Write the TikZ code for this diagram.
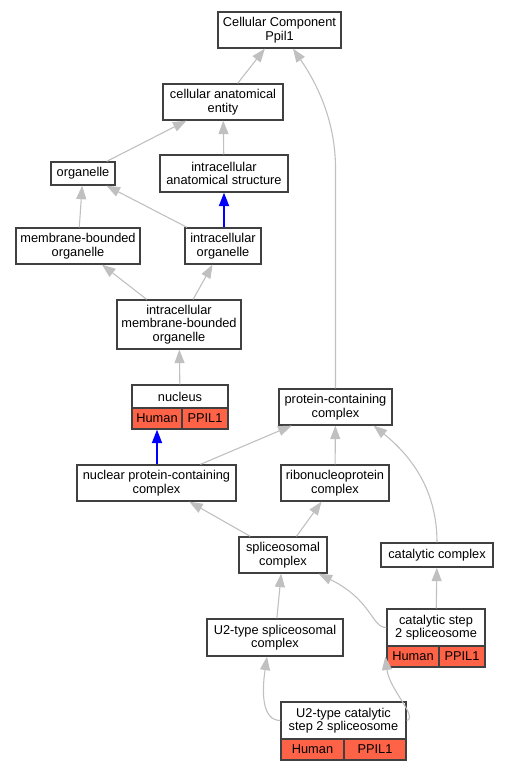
\documentclass[tikz,border=0pt]{standalone}
\usepackage{fontspec}
\setmainfont{Liberation Sans}
\usetikzlibrary{calc,arrows.meta}
\definecolor{hitred}{HTML}{FF6347}
\definecolor{linkgray}{HTML}{C0C0C0}
\tikzset{
	term/.style={draw=black!75, line width=1.3pt, fill=white, inner sep=0pt, align=center,
		font=\fontsize{12.8}{13.6}\selectfont},
	hit/.style={term, fill=hitred},
	link/.style={draw=linkgray, line width=1.1pt, -{Triangle[length=13.5pt,width=10pt]}},
	bluelink/.style={link, draw=blue, line width=2pt}
}
\begin{document}
\begin{tikzpicture}[x=1pt, y=-1pt]
			%%%%% START %%%%%
			\useasboundingbox (0, 0) rectangle (509, 771);
			
			\node[term, minimum width=123, minimum height=36] (cc) at (279.5, 30) {Cellular Component\\Ppil1};
			\node[term, minimum width=120, minimum height=36] (cae) at (223, 102) {cellular anatomical\\entity};
			\node[term, minimum width=64, minimum height=23] (org) at (83, 173.5) {organelle};
			\node[term, minimum width=128, minimum height=37] (ias) at (224, 173.5) {intracellular\\anatomical structure};
			\node[term, minimum width=124, minimum height=36] (mbo) at (78, 246) {membrane-bounded\\organelle};
			\node[term, minimum width=76, minimum height=36] (io) at (223, 246) {intracellular\\organelle};
			\node[term, minimum width=124, minimum height=49] (imbo) at (179, 324.5) {intracellular\\membrane-bounded\\organelle};
			
			\node[term, minimum width=96, minimum height=23] (nuc) at (180, 396.5) {nucleus};
			\node[hit, minimum width=50, minimum height=21] (nuch) at (157, 418.5) {Human};
			\node[hit, minimum width=46, minimum height=21] (nucp) at (205, 418.5) {PPIL1};
			
			\node[term, minimum width=113, minimum height=36] (pcc) at (335.5, 407) {protein-containing\\complex};
			\node[term, minimum width=159, minimum height=36] (npcc) at (156.5, 483) {nuclear protein-containing\\complex};
			\node[term, minimum width=108, minimum height=36] (rnp) at (335, 483) {ribonucleoprotein\\complex};
			\node[term, minimum width=88, minimum height=36] (spl) at (283, 555) {spliceosomal\\complex};
			\node[term, minimum width=112, minimum height=24] (cat) at (437, 555) {catalytic complex};
			\node[term, minimum width=136, minimum height=37] (u2sc) at (275, 637.5) {U2-type spliceosomal\\complex};
			
			\node[term, minimum width=98, minimum height=37] (cs2s) at (436, 627.5) {catalytic step\\2 spliceosome};
			\node[hit, minimum width=52, minimum height=21] (cs2sh) at (413, 656.5) {Human};
			\node[hit, minimum width=46, minimum height=21] (cs2sp) at (462, 656.5) {PPIL1};
			
			\node[term, minimum width=125, minimum height=37] (u2cs) at (343.5, 720.5) {U2-type catalytic\\step 2 spliceosome};
			\node[hit, minimum width=63, minimum height=21] (u2csh) at (312.5, 749.5) {Human};
			\node[hit, minimum width=62, minimum height=21] (u2csp) at (375, 749.5) {PPIL1};
			
			%%%%% LINKS %%%%%
			\draw[link] (cae) -- (cc);
			\draw[link] (pcc.north) -- ++(0, -220) .. controls +(0, -50) and +(22, 32) .. ($(cc.south)+(13.5, 0)$);
			\draw[link] (org) -- (cae);
			\draw[link] (ias) -- (cae);
			\draw[link] (mbo) -- (org);
			\draw[link] (io) -- (org);
			\draw[bluelink] (ias.south |- io.north) -- (ias.south);
			\draw[link] (imbo) -- (mbo);
			\draw[link] (imbo) -- (io);
			\draw[link] (nuc) -- (imbo);
			\draw[bluelink] (nuch.south |- npcc.north) -- (nuch.south);
			\draw[link] (npcc) -- (pcc);
			\draw[link] (rnp) -- (pcc);
			\draw[link] (cat.north) .. controls +(0, -53) and +(37, 30) .. ($(pcc.south east)+(-19, 0)$);
			\draw[link] (spl) -- (npcc);
			\draw[link] (spl) -- (rnp);
			\draw[link] (u2sc) -- (spl);
			\draw[link] (cs2s.west) .. controls +(-15, 0) and +(54, 27) .. ($(spl.south east)+(-9, 0)$);
			\draw[link] (cs2s) -- (cat);
			\draw[link] (u2cs.west) .. controls +(-19, 0) and +(-5, 34) .. ($(u2sc.south)+(-8, 0)$);
			\draw[link] (u2cs.east) .. controls +(12, -3) and +(4, 33) .. ($(cs2sh.west)+(-1, 0)$);
			
			%%%%% END %%%%%
		\end{tikzpicture}
\end{document}
